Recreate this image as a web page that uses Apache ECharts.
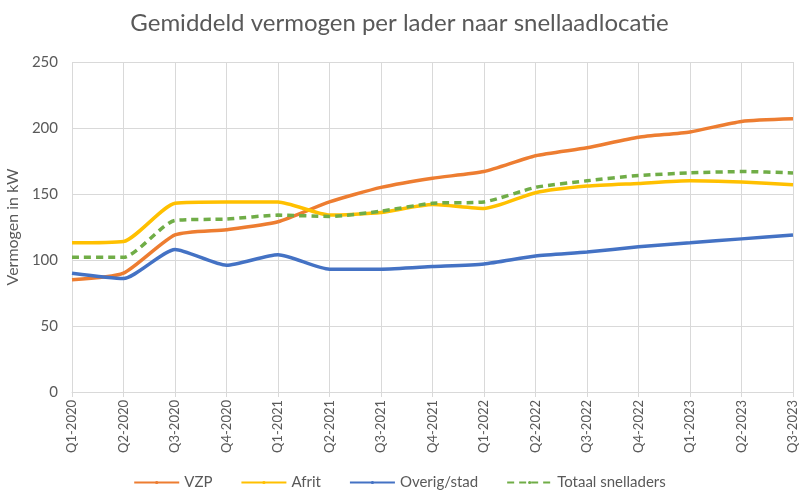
<!DOCTYPE html>
<html>
<head>
<meta charset="utf-8">
<script src="https://cdn.jsdelivr.net/npm/echarts@6/dist/echarts.min.js"></script>
<style>
  html, body { margin: 0; padding: 0; background: #fff; }
  #chart { width: 799px; height: 497px; }
</style>
</head>
<body>
<div id="chart"></div>
<script>
// kwartalen
var quarters = ['Q1-2020', 'Q2-2020', 'Q3-2020', 'Q4-2020', 'Q1-2021', 'Q2-2021', 'Q3-2021', 'Q4-2021',
                'Q1-2022', 'Q2-2022', 'Q3-2022', 'Q4-2022', 'Q1-2023', 'Q2-2023', 'Q3-2023'];

// gemiddeld vermogen (kW) per locatietype
var vzp    = [85, 90, 119, 123, 129, 144, 155, 162, 167, 179, 185, 193, 197, 205, 207];
var afrit  = [113, 114, 143, 144, 144, 134, 136, 142, 139, 151, 156, 158, 160, 159, 157];
var overig = [90, 86, 108, 96, 104, 93, 93, 95, 97, 103, 106, 110, 113, 116, 119];
var totaal = [102, 102, 130, 131, 134, 133, 137, 143, 144, 155, 160, 164, 166, 167, 166];

var fontName = 'Lato';

function line(name, data, color, dashed) {
  return {
    name: name,
    type: 'line',
    data: data,
    smooth: 0.2,
    symbol: 'none',
    lineStyle: { color: color, width: 3.5, type: dashed ? [7, 5] : 'solid' },
    itemStyle: { color: color }
  };
}

var chart = echarts.init(document.getElementById('chart'));
chart.setOption({
  animation: false,
  title: {
    text: 'Gemiddeld vermogen per lader naar snellaadlocatie',
    left: 'center',
    top: 6,
    textStyle: { fontFamily: fontName, fontSize: 24, fontWeight: 'normal', color: '#595959' }
  },
  legend: {
    bottom: 2,
    left: 'center',
    itemWidth: 45,
    itemHeight: 4,
    itemGap: 28,
    textStyle: { fontFamily: fontName, fontSize: 15, color: '#595959' },
    data: ['VZP', 'Afrit', 'Overig/stad', 'Totaal snelladers']
  },
  grid: { left: 72, right: 6, top: 62, bottom: 105, outerBoundsMode: 'none', containLabel: false },
  xAxis: {
    type: 'category',
    data: quarters,
    boundaryGap: false,
    axisLine: { lineStyle: { color: '#d9d9d9', width: 1 } },
    axisTick: { show: true, length: 5, lineStyle: { color: '#d9d9d9' } },
    axisLabel: { rotate: 90, interval: 0, margin: 8, fontFamily: fontName, fontSize: 13, color: '#595959' },
    splitLine: { show: true, lineStyle: { color: '#d9d9d9', width: 1 } }
  },
  yAxis: {
    type: 'value',
    min: 0,
    max: 250,
    interval: 50,
    name: 'Vermogen in kW',
    nameLocation: 'middle',
    nameGap: 42,
    nameTextStyle: { fontFamily: fontName, fontSize: 16, color: '#595959' },
    axisLine: { show: false },
    axisTick: { show: false },
    axisLabel: { margin: 14, fontFamily: fontName, fontSize: 15, color: '#595959' },
    splitLine: { lineStyle: { color: '#d9d9d9', width: 1 } }
  },
  series: [
    line('VZP', vzp, '#ED7D31', false),
    line('Afrit', afrit, '#FFC000', false),
    line('Overig/stad', overig, '#4472C4', false),
    line('Totaal snelladers', totaal, '#70AD47', true)
  ]
});
</script>
</body>
</html>
